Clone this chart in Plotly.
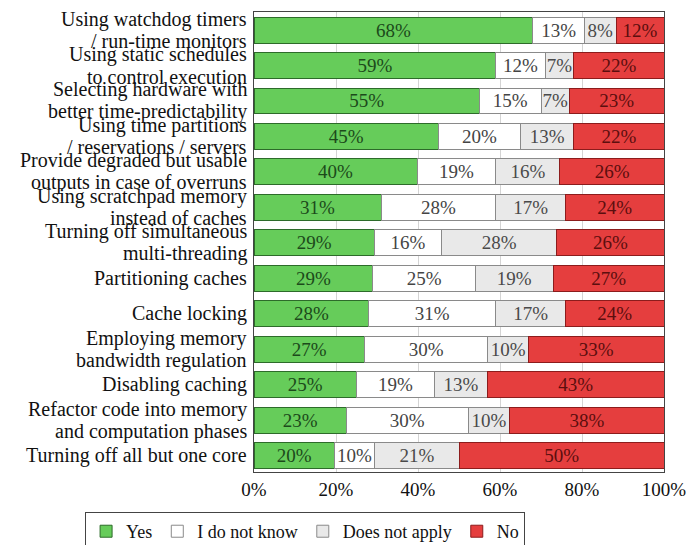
import plotly.graph_objects as go

categories = [
    "Using watchdog timers<br>/ run-time monitors",
    "Using static schedules<br>to control execution",
    "Selecting hardware with<br>better time-predictability",
    "Using time partitions<br>/ reservations / servers",
    "Provide degraded but usable<br>outputs in case of overruns",
    "Using scratchpad memory<br>instead of caches",
    "Turning off simultaneous<br>multi-threading",
    "Partitioning caches",
    "Cache locking",
    "Employing memory<br>bandwidth regulation",
    "Disabling caching",
    "Refactor code into memory<br>and computation phases",
    "Turning off all but one core",
]
yes = [68.0, 59, 55, 45, 39.8, 31, 29.4, 29, 28, 27, 25, 22.6, 19.6]
dont_know = [12.6, 12, 15, 20, 19.2, 28, 16.3, 25, 31, 30, 19, 29.6, 9.8]
not_apply = [7.7, 7, 7, 13, 15.6, 17, 28.2, 19, 17, 10, 13, 10.2, 20.7]
no = [11.7, 22, 23, 22, 25.6, 24, 26.1, 27, 24, 33, 43, 37.6, 49.9]

x_ticks = [0, 20, 40, 60, 80, 100]
x_tick_labels = ["0%", "20%", "40%", "60%", "80%", "100%"]

series = [
    ("Yes", yes, "#66cc5a", "#2d6b2a", "#1c4a1a"),
    ("I do not know", dont_know, "#ffffff", "#8a8a8a", "#444444"),
    ("Does not apply", not_apply, "#e9e9e9", "#8a8a8a", "#4a4a4a"),
    ("No", no, "#e53e3e", "#8c1c1c", "#5c0e0e"),
]

FONT = "Liberation Serif, Times New Roman, DejaVu Serif, serif"
LABEL_SIZE = 20
ypos = list(range(len(categories)))

fig = go.Figure()
for name, vals, fill, line, tcol in series:
    fig.add_trace(go.Bar(
        name=name,
        y=ypos,
        x=vals,
        orientation="h",
        width=0.73,
        marker=dict(color=fill, line=dict(color=line, width=1)),
        text=[f"{round(v)}%" for v in vals],
        textposition="inside",
        insidetextanchor="middle",
        textangle=0,
        constraintext="none",
        textfont=dict(family=FONT, size=19, color=tcol),
        hoverinfo="skip",
    ))

for i, label in enumerate(categories):
    lines = label.split("<br>")
    n = len(lines)
    for k, line_text in enumerate(lines):
        fig.add_annotation(
            x=0, xref="paper", y=i, yref="y",
            text=line_text, showarrow=False,
            xanchor="right", yanchor="middle", align="right",
            xshift=-5,
            yshift=((n - 1) / 2 - k) * 22,
            font=dict(family=FONT, size=LABEL_SIZE, color="#111111"),
        )

fig.update_layout(
    barmode="stack",
    width=686,
    height=545,
    margin=dict(l=254, r=22, t=12, b=73, autoexpand=False),
    paper_bgcolor="white",
    plot_bgcolor="white",
    font=dict(family=FONT, size=19, color="#111111"),
    bargap=0.27,
    legend=dict(
        orientation="h",
        traceorder="normal",
        x=-0.412,
        xanchor="left",
        y=-0.087,
        yanchor="top",
        bordercolor="#444444",
        borderwidth=1,
        font=dict(family=FONT, size=18, color="#111111"),
        itemwidth=30,
    ),
    showlegend=True,
)
fig.update_xaxes(
    range=[0, 100],
    tickvals=x_ticks,
    ticktext=x_tick_labels,
    showgrid=True,
    gridcolor="#d4d4d4",
    gridwidth=1,
    showline=True,
    linecolor="#444444",
    linewidth=1,
    mirror=True,
    zeroline=False,
    ticks="",
    automargin=False,
    ticklabeloverflow="allow",
    tickfont=dict(family=FONT, size=19),
)
fig.update_yaxes(
    range=[12.465, -0.51],
    tickvals=ypos,
    showticklabels=False,
    showgrid=False,
    showline=True,
    linecolor="#444444",
    linewidth=1,
    mirror=True,
    zeroline=False,
    ticks="",
    automargin=False,
)

fig.write_html(
    "out.html",
    config={"displayModeBar": False},
    post_script="document.body.style.margin='0';document.body.style.padding='0';",
)
